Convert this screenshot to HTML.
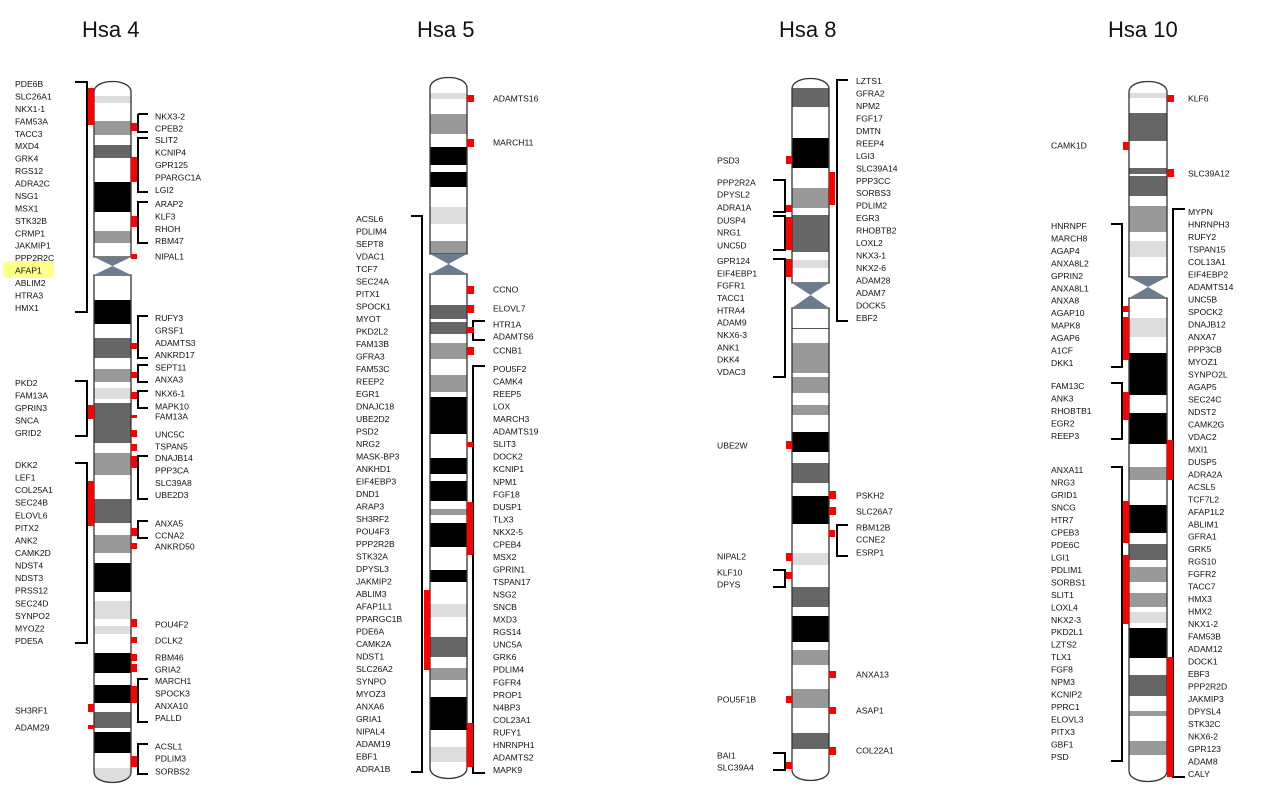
<!DOCTYPE html>
<html><head><meta charset="utf-8"><style>
body{margin:0;background:#fff}
svg{display:block}
text{font-family:"Liberation Sans",sans-serif;font-size:8.6px;fill:#111;dominant-baseline:middle}
.t{font-size:22px;dominant-baseline:auto}
.b{fill:none;stroke:#000;stroke-width:2}
.o{fill:none;stroke:#333;stroke-width:1.3}
.r{fill:#f00}
</style></head><body>
<svg width="1276" height="799" viewBox="0 0 1276 799" xmlns="http://www.w3.org/2000/svg">
<defs>
<clipPath id="c4"><path d="M94,257V92C94,78 131,78 131,92V257Z M94,275V772C94,786 131,786 131,772V275Z"/></clipPath>
<clipPath id="c5"><path d="M430,254V88C430,74 467,74 467,88V254Z M430,274V768C430,782 467,782 467,768V274Z"/></clipPath>
<clipPath id="c8"><path d="M792,283V89C792,75 829,75 829,89V283Z M792,308V770C792,784 829,784 829,770V308Z"/></clipPath>
<clipPath id="c10"><path d="M1129,277V92C1129,78 1167,78 1167,92V277Z M1129,298V771C1129,785 1167,785 1167,771V298Z"/></clipPath>
</defs>
<text class="t" x="82" y="37">Hsa 4</text>
<text class="t" x="417" y="37">Hsa 5</text>
<text class="t" x="779" y="37">Hsa 8</text>
<text class="t" x="1108" y="37">Hsa 10</text>

<!-- Hsa4 chromosome -->
<g clip-path="url(#c4)">
<rect x="90" y="70" width="50" height="720" fill="#fff"/>
<rect x="94" y="96" width="37" height="7" fill="#ddd"/>
<rect x="94" y="121" width="37" height="14" fill="#999"/>
<rect x="94" y="145" width="37" height="13" fill="#666"/>
<rect x="94" y="182" width="37" height="30" fill="#000"/>
<rect x="94" y="231" width="37" height="12" fill="#999"/>
<rect x="94" y="300" width="37" height="24" fill="#000"/>
<rect x="94" y="338" width="37" height="20" fill="#666"/>
<rect x="94" y="369" width="37" height="13" fill="#999"/>
<rect x="94" y="388" width="37" height="11" fill="#ddd"/>
<rect x="94" y="403" width="37" height="40" fill="#666"/>
<rect x="94" y="453" width="37" height="22" fill="#999"/>
<rect x="94" y="499" width="37" height="24" fill="#666"/>
<rect x="94" y="535" width="37" height="18" fill="#999"/>
<rect x="94" y="563" width="37" height="29" fill="#000"/>
<rect x="94" y="601" width="37" height="18" fill="#ddd"/>
<rect x="94" y="626" width="37" height="8" fill="#ddd"/>
<rect x="94" y="653" width="37" height="20" fill="#000"/>
<rect x="94" y="685" width="37" height="18" fill="#000"/>
<rect x="94" y="712" width="37" height="16" fill="#666"/>
<rect x="94" y="732" width="37" height="21" fill="#000"/>
<rect x="94" y="768" width="37" height="20" fill="#ddd"/>
</g>
<path class="o" d="M94,257V92C94,78 131,78 131,92V257Z M94,275V772C94,786 131,786 131,772V275Z"/>
<polygon points="94,257 131,257 112.5,266" fill="#6b7c8f"/><polygon points="94,275 131,275 112.5,266" fill="#6b7c8f"/>

<!-- Hsa5 chromosome -->
<g clip-path="url(#c5)">
<rect x="425" y="70" width="50" height="720" fill="#fff"/>
<rect x="430" y="93" width="37" height="6" fill="#ddd"/>
<rect x="430" y="114" width="37" height="20" fill="#999"/>
<rect x="430" y="147" width="37" height="18" fill="#000"/>
<rect x="430" y="172" width="37" height="15" fill="#000"/>
<rect x="430" y="207" width="37" height="17" fill="#ddd"/>
<rect x="430" y="241" width="37" height="13" fill="#999"/>
<rect x="430" y="305" width="37" height="14" fill="#666"/>
<rect x="430" y="322" width="37" height="12" fill="#666"/>
<rect x="430" y="343" width="37" height="16" fill="#999"/>
<rect x="430" y="375" width="37" height="17" fill="#999"/>
<rect x="430" y="397" width="37" height="37" fill="#000"/>
<rect x="430" y="458" width="37" height="16" fill="#000"/>
<rect x="430" y="481" width="37" height="20" fill="#000"/>
<rect x="430" y="509" width="37" height="6" fill="#999"/>
<rect x="430" y="523" width="37" height="24" fill="#000"/>
<rect x="430" y="570" width="37" height="12" fill="#000"/>
<rect x="430" y="604" width="37" height="13" fill="#ddd"/>
<rect x="430" y="637" width="37" height="20" fill="#666"/>
<rect x="430" y="668" width="37" height="12" fill="#999"/>
<rect x="430" y="697" width="37" height="33" fill="#000"/>
<rect x="430" y="747" width="37" height="15" fill="#ddd"/>
</g>
<path class="o" d="M430,254V88C430,74 467,74 467,88V254Z M430,274V768C430,782 467,782 467,768V274Z"/>
<polygon points="430,254 467,254 448.5,264" fill="#6b7c8f"/><polygon points="430,274 467,274 448.5,264" fill="#6b7c8f"/>

<!-- Hsa8 chromosome -->
<g clip-path="url(#c8)">
<rect x="787" y="70" width="50" height="720" fill="#fff"/>
<rect x="792" y="88" width="37" height="19" fill="#666"/>
<rect x="792" y="138" width="37" height="30" fill="#000"/>
<rect x="792" y="188" width="37" height="20" fill="#999"/>
<rect x="792" y="215" width="37" height="37" fill="#666"/>
<rect x="792" y="260" width="37" height="8" fill="#ddd"/>
<rect x="792" y="328" width="37" height="1" fill="#555"/>
<rect x="792" y="343" width="37" height="30" fill="#999"/>
<rect x="792" y="377" width="37" height="16" fill="#999"/>
<rect x="792" y="405" width="37" height="10" fill="#999"/>
<rect x="792" y="432" width="37" height="20" fill="#000"/>
<rect x="792" y="463" width="37" height="20" fill="#666"/>
<rect x="792" y="496" width="37" height="28" fill="#000"/>
<rect x="792" y="553" width="37" height="12" fill="#ddd"/>
<rect x="792" y="587" width="37" height="20" fill="#666"/>
<rect x="792" y="616" width="37" height="26" fill="#000"/>
<rect x="792" y="650" width="37" height="15" fill="#999"/>
<rect x="792" y="689" width="37" height="19" fill="#999"/>
<rect x="792" y="733" width="37" height="16" fill="#666"/>
</g>
<path class="o" d="M792,283V89C792,75 829,75 829,89V283Z M792,308V770C792,784 829,784 829,770V308Z"/>
<polygon points="792,283 829,283 810.5,295" fill="#6b7c8f"/><polygon points="792,308 829,308 810.5,295" fill="#6b7c8f"/>

<!-- Hsa10 chromosome -->
<g clip-path="url(#c10)">
<rect x="1124" y="70" width="50" height="720" fill="#fff"/>
<rect x="1129" y="93" width="38" height="5" fill="#ddd"/>
<rect x="1129" y="113" width="38" height="28" fill="#666"/>
<rect x="1129" y="168" width="38" height="6" fill="#666"/>
<rect x="1129" y="176" width="38" height="20" fill="#666"/>
<rect x="1129" y="206" width="38" height="26" fill="#999"/>
<rect x="1129" y="241" width="38" height="16" fill="#ddd"/>
<rect x="1129" y="318" width="38" height="19" fill="#ddd"/>
<rect x="1129" y="353" width="38" height="42" fill="#000"/>
<rect x="1129" y="413" width="38" height="31" fill="#000"/>
<rect x="1129" y="467" width="38" height="13" fill="#999"/>
<rect x="1129" y="505" width="38" height="28" fill="#000"/>
<rect x="1129" y="544" width="38" height="16" fill="#666"/>
<rect x="1129" y="567" width="38" height="15" fill="#999"/>
<rect x="1129" y="593" width="38" height="14" fill="#999"/>
<rect x="1129" y="612" width="38" height="11" fill="#ddd"/>
<rect x="1129" y="628" width="38" height="30" fill="#000"/>
<rect x="1129" y="675" width="38" height="21" fill="#666"/>
<rect x="1129" y="711" width="38" height="5" fill="#999"/>
<rect x="1129" y="741" width="38" height="14" fill="#999"/>
</g>
<path class="o" d="M1129,277V92C1129,78 1167,78 1167,92V277Z M1129,298V771C1129,785 1167,785 1167,771V298Z"/>
<polygon points="1129,277 1167,277 1148,287" fill="#6b7c8f"/><polygon points="1129,298 1167,298 1148,287" fill="#6b7c8f"/>

<!-- ===== Hsa4 annotations ===== -->
<rect x="3" y="261" width="51" height="17" rx="4" fill="#ffff8c"/>
<path class="b" d="M75,82H87V312H75 M75,381H87V436H75 M75,463H87V643H75 M138,114H148 M138,114V132H148 M148,138H138V192H148 M148,202H138V243H148 M148,316H138V358H148 M148,365H138V382H148 M148,391H138V408H148 M148,456H138V499H148 M148,521H138V538H148 M148,679H138V722H148 M148,744H138V774H148"/>
<g class="r">
<rect x="88" y="88" width="6" height="37"/><rect x="88" y="405" width="6" height="14"/><rect x="88" y="481" width="6" height="45"/>
<rect x="88" y="704" width="6" height="8"/><rect x="88" y="725" width="6" height="4"/>
<rect x="131" y="123" width="6" height="8"/><rect x="131" y="157" width="6" height="25"/><rect x="131" y="216" width="6" height="11"/>
<rect x="131" y="254" width="6" height="5"/><rect x="131" y="343" width="6" height="6"/><rect x="131" y="372" width="6" height="6"/>
<rect x="131" y="392" width="6" height="7"/><rect x="131" y="415" width="6" height="3"/><rect x="131" y="430" width="6" height="7"/>
<rect x="131" y="444" width="6" height="7"/><rect x="131" y="456" width="6" height="12"/><rect x="131" y="528" width="6" height="8"/>
<rect x="131" y="543" width="6" height="6"/><rect x="131" y="619" width="6" height="8"/><rect x="131" y="637" width="6" height="6"/>
<rect x="131" y="654" width="6" height="7"/><rect x="131" y="664" width="6" height="8"/><rect x="131" y="686" width="6" height="17"/>
<rect x="131" y="756" width="6" height="11"/>
</g>
<text x="15" y="85"><tspan x="15">PDE6B</tspan><tspan x="15" dy="12.44">SLC26A1</tspan><tspan x="15" dy="12.44">NKX1-1</tspan><tspan x="15" dy="12.44">FAM53A</tspan><tspan x="15" dy="12.44">TACC3</tspan><tspan x="15" dy="12.44">MXD4</tspan><tspan x="15" dy="12.44">GRK4</tspan><tspan x="15" dy="12.44">RGS12</tspan><tspan x="15" dy="12.44">ADRA2C</tspan><tspan x="15" dy="12.44">NSG1</tspan><tspan x="15" dy="12.44">MSX1</tspan><tspan x="15" dy="12.44">STK32B</tspan><tspan x="15" dy="12.44">CRMP1</tspan><tspan x="15" dy="12.44">JAKMIP1</tspan><tspan x="15" dy="12.44">PPP2R2C</tspan><tspan x="15" dy="12.44">AFAP1</tspan><tspan x="15" dy="12.44">ABLIM2</tspan><tspan x="15" dy="12.44">HTRA3</tspan><tspan x="15" dy="12.44">HMX1</tspan></text>
<text x="15" y="384"><tspan x="15">PKD2</tspan><tspan x="15" dy="12.5">FAM13A</tspan><tspan x="15" dy="12.5">GPRIN3</tspan><tspan x="15" dy="12.5">SNCA</tspan><tspan x="15" dy="12.5">GRID2</tspan></text>
<text x="15" y="466"><tspan x="15">DKK2</tspan><tspan x="15" dy="12.57">LEF1</tspan><tspan x="15" dy="12.57">COL25A1</tspan><tspan x="15" dy="12.57">SEC24B</tspan><tspan x="15" dy="12.57">ELOVL6</tspan><tspan x="15" dy="12.57">PITX2</tspan><tspan x="15" dy="12.57">ANK2</tspan><tspan x="15" dy="12.57">CAMK2D</tspan><tspan x="15" dy="12.57">NDST4</tspan><tspan x="15" dy="12.57">NDST3</tspan><tspan x="15" dy="12.57">PRSS12</tspan><tspan x="15" dy="12.57">SEC24D</tspan><tspan x="15" dy="12.57">SYNPO2</tspan><tspan x="15" dy="12.57">MYOZ2</tspan><tspan x="15" dy="12.57">PDE5A</tspan></text>
<text x="15" y="711">SH3RF1</text><text x="15" y="728">ADAM29</text>
<text x="155" y="117">NKX3-2</text><text x="155" y="129">CPEB2</text>
<text x="155" y="141"><tspan x="155">SLIT2</tspan><tspan x="155" dy="12.5">KCNIP4</tspan><tspan x="155" dy="12.5">GPR125</tspan><tspan x="155" dy="12.5">PPARGC1A</tspan><tspan x="155" dy="12.5">LGI2</tspan></text>
<text x="155" y="205"><tspan x="155">ARAP2</tspan><tspan x="155" dy="12.4">KLF3</tspan><tspan x="155" dy="12.4">RHOH</tspan><tspan x="155" dy="12.4">RBM47</tspan></text>
<text x="155" y="257">NIPAL1</text>
<text x="155" y="319"><tspan x="155">RUFY3</tspan><tspan x="155" dy="12.4">GRSF1</tspan><tspan x="155" dy="12.4">ADAMTS3</tspan><tspan x="155" dy="12.4">ANKRD17</tspan></text>
<text x="155" y="368">SEPT11</text><text x="155" y="380">ANXA3</text>
<text x="155" y="394">NKX6-1</text><text x="155" y="407">MAPK10</text><text x="155" y="417">FAM13A</text>
<text x="155" y="435">UNC5C</text><text x="155" y="447">TSPAN5</text>
<text x="155" y="459"><tspan x="155">DNAJB14</tspan><tspan x="155" dy="12.4">PPP3CA</tspan><tspan x="155" dy="12.4">SLC39A8</tspan><tspan x="155" dy="12.4">UBE2D3</tspan></text>
<text x="155" y="524">ANXA5</text><text x="155" y="536">CCNA2</text><text x="155" y="547">ANKRD50</text>
<text x="155" y="625">POU4F2</text><text x="155" y="641">DCLK2</text><text x="155" y="658">RBM46</text><text x="155" y="670">GRIA2</text>
<text x="155" y="682"><tspan x="155">MARCH1</tspan><tspan x="155" dy="12.4">SPOCK3</tspan><tspan x="155" dy="12.4">ANXA10</tspan><tspan x="155" dy="12.4">PALLD</tspan></text>
<text x="155" y="747">ACSL1</text><text x="155" y="759">PDLIM3</text><text x="155" y="772">SORBS2</text>

<!-- ===== Hsa5 annotations ===== -->
<path class="b" d="M411,216H422V772H411 M485,321H473V340H485 M485,366H473V773H485"/>
<g class="r">
<rect x="424" y="590" width="6" height="80"/>
<rect x="467" y="95" width="7" height="7"/><rect x="467" y="139" width="7" height="8"/><rect x="467" y="286" width="7" height="8"/>
<rect x="467" y="305" width="7" height="8"/><rect x="467" y="327" width="7" height="6"/><rect x="467" y="347" width="7" height="8"/>
<rect x="467" y="442" width="6" height="5"/><rect x="467" y="502" width="6" height="53"/><rect x="467" y="723" width="6" height="44"/>
</g>
<text x="493" y="99">ADAMTS16</text><text x="493" y="143">MARCH11</text><text x="493" y="290">CCNO</text><text x="493" y="309">ELOVL7</text>
<text x="493" y="325">HTR1A</text><text x="493" y="337">ADAMTS6</text><text x="493" y="351">CCNB1</text>
<text x="493" y="370"><tspan x="493">POU5F2</tspan><tspan x="493" dy="12.53">CAMK4</tspan><tspan x="493" dy="12.53">REEP5</tspan><tspan x="493" dy="12.53">LOX</tspan><tspan x="493" dy="12.53">MARCH3</tspan><tspan x="493" dy="12.53">ADAMTS19</tspan><tspan x="493" dy="12.53">SLIT3</tspan><tspan x="493" dy="12.53">DOCK2</tspan><tspan x="493" dy="12.53">KCNIP1</tspan><tspan x="493" dy="12.53">NPM1</tspan><tspan x="493" dy="12.53">FGF18</tspan><tspan x="493" dy="12.53">DUSP1</tspan><tspan x="493" dy="12.53">TLX3</tspan><tspan x="493" dy="12.53">NKX2-5</tspan><tspan x="493" dy="12.53">CPEB4</tspan><tspan x="493" dy="12.53">MSX2</tspan><tspan x="493" dy="12.53">GPRIN1</tspan><tspan x="493" dy="12.53">TSPAN17</tspan><tspan x="493" dy="12.53">NSG2</tspan><tspan x="493" dy="12.53">SNCB</tspan><tspan x="493" dy="12.53">MXD3</tspan><tspan x="493" dy="12.53">RGS14</tspan><tspan x="493" dy="12.53">UNC5A</tspan><tspan x="493" dy="12.53">GRK6</tspan><tspan x="493" dy="12.53">PDLIM4</tspan><tspan x="493" dy="12.53">FGFR4</tspan><tspan x="493" dy="12.53">PROP1</tspan><tspan x="493" dy="12.53">N4BP3</tspan><tspan x="493" dy="12.53">COL23A1</tspan><tspan x="493" dy="12.53">RUFY1</tspan><tspan x="493" dy="12.53">HNRNPH1</tspan><tspan x="493" dy="12.53">ADAMTS2</tspan><tspan x="493" dy="12.53">MAPK9</tspan></text>
<text x="356" y="220"><tspan x="356">ACSL6</tspan><tspan x="356" dy="12.5">PDLIM4</tspan><tspan x="356" dy="12.5">SEPT8</tspan><tspan x="356" dy="12.5">VDAC1</tspan><tspan x="356" dy="12.5">TCF7</tspan><tspan x="356" dy="12.5">SEC24A</tspan><tspan x="356" dy="12.5">PITX1</tspan><tspan x="356" dy="12.5">SPOCK1</tspan><tspan x="356" dy="12.5">MYOT</tspan><tspan x="356" dy="12.5">PKD2L2</tspan><tspan x="356" dy="12.5">FAM13B</tspan><tspan x="356" dy="12.5">GFRA3</tspan><tspan x="356" dy="12.5">FAM53C</tspan><tspan x="356" dy="12.5">REEP2</tspan><tspan x="356" dy="12.5">EGR1</tspan><tspan x="356" dy="12.5">DNAJC18</tspan><tspan x="356" dy="12.5">UBE2D2</tspan><tspan x="356" dy="12.5">PSD2</tspan><tspan x="356" dy="12.5">NRG2</tspan><tspan x="356" dy="12.5">MASK-BP3</tspan><tspan x="356" dy="12.5">ANKHD1</tspan><tspan x="356" dy="12.5">EIF4EBP3</tspan><tspan x="356" dy="12.5">DND1</tspan><tspan x="356" dy="12.5">ARAP3</tspan><tspan x="356" dy="12.5">SH3RF2</tspan><tspan x="356" dy="12.5">POU4F3</tspan><tspan x="356" dy="12.5">PPP2R2B</tspan><tspan x="356" dy="12.5">STK32A</tspan><tspan x="356" dy="12.5">DPYSL3</tspan><tspan x="356" dy="12.5">JAKMIP2</tspan><tspan x="356" dy="12.5">ABLIM3</tspan><tspan x="356" dy="12.5">AFAP1L1</tspan><tspan x="356" dy="12.5">PPARGC1B</tspan><tspan x="356" dy="12.5">PDE6A</tspan><tspan x="356" dy="12.5">CAMK2A</tspan><tspan x="356" dy="12.5">NDST1</tspan><tspan x="356" dy="12.5">SLC26A2</tspan><tspan x="356" dy="12.5">SYNPO</tspan><tspan x="356" dy="12.5">MYOZ3</tspan><tspan x="356" dy="12.5">ANXA6</tspan><tspan x="356" dy="12.5">GRIA1</tspan><tspan x="356" dy="12.5">NIPAL4</tspan><tspan x="356" dy="12.5">ADAM19</tspan><tspan x="356" dy="12.5">EBF1</tspan><tspan x="356" dy="12.5">ADRA1B</tspan></text>

<!-- ===== Hsa8 annotations ===== -->
<path class="b" d="M773,180H785V212H773 M773,216H785V250H773 M773,259H785V377H773 M773,570H785V587H773 M773,753H785V770H773 M848,80H837V321H848 M848,525H837V556H848"/>
<g class="r">
<rect x="786" y="156" width="6" height="8"/><rect x="786" y="205" width="6" height="7"/><rect x="786" y="217" width="6" height="33"/>
<rect x="786" y="259" width="6" height="18"/><rect x="786" y="441" width="6" height="8"/><rect x="786" y="553" width="6" height="8"/>
<rect x="786" y="572" width="6" height="7"/><rect x="786" y="696" width="6" height="7"/><rect x="786" y="762" width="6" height="7"/>
<rect x="829" y="172" width="6" height="33"/><rect x="829" y="491" width="7" height="8"/><rect x="829" y="507" width="7" height="8"/>
<rect x="829" y="530" width="6" height="7"/><rect x="829" y="671" width="7" height="7"/><rect x="829" y="707" width="7" height="7"/><rect x="829" y="747" width="7" height="8"/>
</g>
<text x="717" y="161">PSD3</text>
<text x="717" y="183">PPP2R2A</text><text x="717" y="195">DPYSL2</text><text x="717" y="208">ADRA1A</text>
<text x="717" y="221">DUSP4</text><text x="717" y="233">NRG1</text><text x="717" y="246">UNC5D</text>
<text x="717" y="262"><tspan x="717">GPR124</tspan><tspan x="717" dy="12.33">EIF4EBP1</tspan><tspan x="717" dy="12.33">FGFR1</tspan><tspan x="717" dy="12.33">TACC1</tspan><tspan x="717" dy="12.33">HTRA4</tspan><tspan x="717" dy="12.33">ADAM9</tspan><tspan x="717" dy="12.33">NKX6-3</tspan><tspan x="717" dy="12.33">ANK1</tspan><tspan x="717" dy="12.33">DKK4</tspan><tspan x="717" dy="12.33">VDAC3</tspan></text>
<text x="717" y="446">UBE2W</text><text x="717" y="557">NIPAL2</text><text x="717" y="573">KLF10</text><text x="717" y="585">DPYS</text>
<text x="717" y="700">POU5F1B</text><text x="717" y="756">BAI1</text><text x="717" y="768">SLC39A4</text>
<text x="856" y="82"><tspan x="856">LZTS1</tspan><tspan x="856" dy="12.47">GFRA2</tspan><tspan x="856" dy="12.47">NPM2</tspan><tspan x="856" dy="12.47">FGF17</tspan><tspan x="856" dy="12.47">DMTN</tspan><tspan x="856" dy="12.47">REEP4</tspan><tspan x="856" dy="12.47">LGI3</tspan><tspan x="856" dy="12.47">SLC39A14</tspan><tspan x="856" dy="12.47">PPP3CC</tspan><tspan x="856" dy="12.47">SORBS3</tspan><tspan x="856" dy="12.47">PDLIM2</tspan><tspan x="856" dy="12.47">EGR3</tspan><tspan x="856" dy="12.47">RHOBTB2</tspan><tspan x="856" dy="12.47">LOXL2</tspan><tspan x="856" dy="12.47">NKX3-1</tspan><tspan x="856" dy="12.47">NKX2-6</tspan><tspan x="856" dy="12.47">ADAM28</tspan><tspan x="856" dy="12.47">ADAM7</tspan><tspan x="856" dy="12.47">DOCK5</tspan><tspan x="856" dy="12.47">EBF2</tspan></text>
<text x="856" y="496">PSKH2</text><text x="856" y="512">SLC26A7</text>
<text x="856" y="528">RBM12B</text><text x="856" y="540">CCNE2</text><text x="856" y="553">ESRP1</text>
<text x="856" y="675">ANXA13</text><text x="856" y="711">ASAP1</text><text x="856" y="751">COL22A1</text>

<!-- ===== Hsa10 annotations ===== -->
<path class="b" d="M1111,224H1122V367H1111 M1111,383H1122V439H1111 M1111,467H1122V761H1111 M1185,209H1173V777H1185"/>
<g class="r">
<rect x="1123" y="142" width="6" height="8"/><rect x="1123" y="306" width="6" height="6"/><rect x="1123" y="317" width="6" height="43"/>
<rect x="1123" y="392" width="6" height="28"/><rect x="1123" y="501" width="6" height="42"/><rect x="1123" y="555" width="6" height="69"/>
<rect x="1167" y="95" width="7" height="7"/><rect x="1167" y="169" width="7" height="8"/>
<rect x="1167" y="440" width="6" height="40"/><rect x="1167" y="657" width="6" height="120"/>
</g>
<text x="1051" y="146">CAMK1D</text>
<text x="1051" y="227"><tspan x="1051">HNRNPF</tspan><tspan x="1051" dy="12.45">MARCH8</tspan><tspan x="1051" dy="12.45">AGAP4</tspan><tspan x="1051" dy="12.45">ANXA8L2</tspan><tspan x="1051" dy="12.45">GPRIN2</tspan><tspan x="1051" dy="12.45">ANXA8L1</tspan><tspan x="1051" dy="12.45">ANXA8</tspan><tspan x="1051" dy="12.45">AGAP10</tspan><tspan x="1051" dy="12.45">MAPK8</tspan><tspan x="1051" dy="12.45">AGAP6</tspan><tspan x="1051" dy="12.45">A1CF</tspan><tspan x="1051" dy="12.45">DKK1</tspan></text>
<text x="1051" y="387"><tspan x="1051">FAM13C</tspan><tspan x="1051" dy="12.5">ANK3</tspan><tspan x="1051" dy="12.5">RHOBTB1</tspan><tspan x="1051" dy="12.5">EGR2</tspan><tspan x="1051" dy="12.5">REEP3</tspan></text>
<text x="1051" y="471"><tspan x="1051">ANXA11</tspan><tspan x="1051" dy="12.48">NRG3</tspan><tspan x="1051" dy="12.48">GRID1</tspan><tspan x="1051" dy="12.48">SNCG</tspan><tspan x="1051" dy="12.48">HTR7</tspan><tspan x="1051" dy="12.48">CPEB3</tspan><tspan x="1051" dy="12.48">PDE6C</tspan><tspan x="1051" dy="12.48">LGI1</tspan><tspan x="1051" dy="12.48">PDLIM1</tspan><tspan x="1051" dy="12.48">SORBS1</tspan><tspan x="1051" dy="12.48">SLIT1</tspan><tspan x="1051" dy="12.48">LOXL4</tspan><tspan x="1051" dy="12.48">NKX2-3</tspan><tspan x="1051" dy="12.48">PKD2L1</tspan><tspan x="1051" dy="12.48">LZTS2</tspan><tspan x="1051" dy="12.48">TLX1</tspan><tspan x="1051" dy="12.48">FGF8</tspan><tspan x="1051" dy="12.48">NPM3</tspan><tspan x="1051" dy="12.48">KCNIP2</tspan><tspan x="1051" dy="12.48">PPRC1</tspan><tspan x="1051" dy="12.48">ELOVL3</tspan><tspan x="1051" dy="12.48">PITX3</tspan><tspan x="1051" dy="12.48">GBF1</tspan><tspan x="1051" dy="12.48">PSD</tspan></text>
<text x="1188" y="99">KLF6</text><text x="1188" y="174">SLC39A12</text>
<text x="1188" y="213"><tspan x="1188">MYPN</tspan><tspan x="1188" dy="12.49">HNRNPH3</tspan><tspan x="1188" dy="12.49">RUFY2</tspan><tspan x="1188" dy="12.49">TSPAN15</tspan><tspan x="1188" dy="12.49">COL13A1</tspan><tspan x="1188" dy="12.49">EIF4EBP2</tspan><tspan x="1188" dy="12.49">ADAMTS14</tspan><tspan x="1188" dy="12.49">UNC5B</tspan><tspan x="1188" dy="12.49">SPOCK2</tspan><tspan x="1188" dy="12.49">DNAJB12</tspan><tspan x="1188" dy="12.49">ANXA7</tspan><tspan x="1188" dy="12.49">PPP3CB</tspan><tspan x="1188" dy="12.49">MYOZ1</tspan><tspan x="1188" dy="12.49">SYNPO2L</tspan><tspan x="1188" dy="12.49">AGAP5</tspan><tspan x="1188" dy="12.49">SEC24C</tspan><tspan x="1188" dy="12.49">NDST2</tspan><tspan x="1188" dy="12.49">CAMK2G</tspan><tspan x="1188" dy="12.49">VDAC2</tspan><tspan x="1188" dy="12.49">MXI1</tspan><tspan x="1188" dy="12.49">DUSP5</tspan><tspan x="1188" dy="12.49">ADRA2A</tspan><tspan x="1188" dy="12.49">ACSL5</tspan><tspan x="1188" dy="12.49">TCF7L2</tspan><tspan x="1188" dy="12.49">AFAP1L2</tspan><tspan x="1188" dy="12.49">ABLIM1</tspan><tspan x="1188" dy="12.49">GFRA1</tspan><tspan x="1188" dy="12.49">GRK5</tspan><tspan x="1188" dy="12.49">RGS10</tspan><tspan x="1188" dy="12.49">FGFR2</tspan><tspan x="1188" dy="12.49">TACC7</tspan><tspan x="1188" dy="12.49">HMX3</tspan><tspan x="1188" dy="12.49">HMX2</tspan><tspan x="1188" dy="12.49">NKX1-2</tspan><tspan x="1188" dy="12.49">FAM53B</tspan><tspan x="1188" dy="12.49">ADAM12</tspan><tspan x="1188" dy="12.49">DOCK1</tspan><tspan x="1188" dy="12.49">EBF3</tspan><tspan x="1188" dy="12.49">PPP2R2D</tspan><tspan x="1188" dy="12.49">JAKMIP3</tspan><tspan x="1188" dy="12.49">DPYSL4</tspan><tspan x="1188" dy="12.49">STK32C</tspan><tspan x="1188" dy="12.49">NKX6-2</tspan><tspan x="1188" dy="12.49">GPR123</tspan><tspan x="1188" dy="12.49">ADAM8</tspan><tspan x="1188" dy="12.49">CALY</tspan></text>
</svg>
</body></html>
